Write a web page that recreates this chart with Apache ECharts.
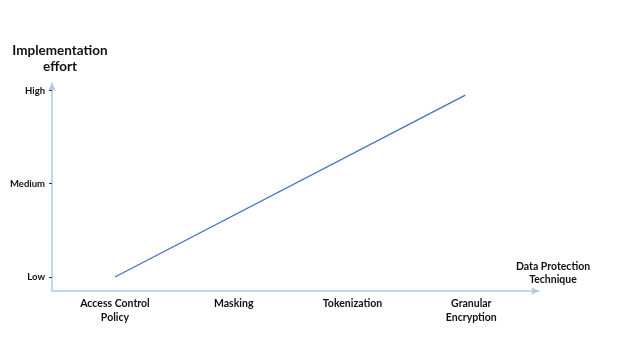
<!DOCTYPE html>
<html>
<head>
<meta charset="utf-8">
<script src="https://cdn.jsdelivr.net/npm/echarts@6/dist/echarts.min.js"></script>
<style>
html,body{margin:0;padding:0;background:#fff;}
#chart{width:628px;height:355px;}
</style>
</head>
<body>
<div id="chart"></div>
<script>
const categories = ['Access Control\nPolicy', 'Masking', 'Tokenization', 'Granular\nEncryption'];
const effortLevels = ['Low', 'Medium', 'High'];
const lineX = [0, 2.95];
const lineY = [1, 2.95];
const xTitle = 'Data Protection\nTechnique';
const yTitle = 'Implementation\neffort';

const font = 'Lato, "Open Sans", sans-serif';
const chart = echarts.init(document.getElementById('chart'), null, {renderer: 'canvas'});
chart.setOption({
  animation: false,
  backgroundColor: '#fff',
  title: [
    {text: yTitle, left: 55, top: 38, textAlign: 'center',
     textStyle: {fontFamily: font, fontWeight: 'bold', fontSize: 13.5, lineHeight: 16, color: '#111', align: 'center'}},
    {text: xTitle, left: 548, top: 255, textAlign: 'center',
     textStyle: {fontFamily: font, fontWeight: 'bold', fontSize: 10.5, lineHeight: 13, color: '#111', align: 'center'}}
  ],
  grid: {left: 52, right: 89, top: 83, bottom: 64, containLabel: false},
  xAxis: {
    type: 'value', min: -0.53, max: 3.57,
    splitLine: {show: false},
    axisLine: {show: true, onZero: false, lineStyle: {color: '#b4c7e7', width: 1.5}, symbol: ['none', 'arrow'], symbolSize: [6, 8]},
    axisTick: {show: false},
    axisLabel: {
      customValues: [0, 1, 2, 3], margin: 6,
      fontFamily: font, fontWeight: 'bold', fontSize: 10.5, lineHeight: 14, color: '#111',
      formatter: v => categories[Math.round(v)]
    }
  },
  yAxis: {
    type: 'value', min: 0.85, max: 3.08,
    splitLine: {show: false},
    axisLine: {show: true, onZero: false, lineStyle: {color: '#b4c7e7', width: 1.5}, symbol: ['none', 'arrow'], symbolSize: [6, 8]},
    axisTick: {show: true, customValues: [1, 2, 3], length: 3, lineStyle: {color: '#333'}},
    axisLabel: {
      customValues: [1, 2, 3], margin: 7,
      fontFamily: font, fontWeight: 'bold', fontSize: 9.5, color: '#111',
      formatter: v => effortLevels[Math.round(v) - 1]
    }
  },
  series: [{
    type: 'line',
    data: lineX.map((x, i) => [x, lineY[i]]),
    showSymbol: false,
    lineStyle: {color: '#4472c4', width: 1.3}
  }]
});
</script>
</body>
</html>
